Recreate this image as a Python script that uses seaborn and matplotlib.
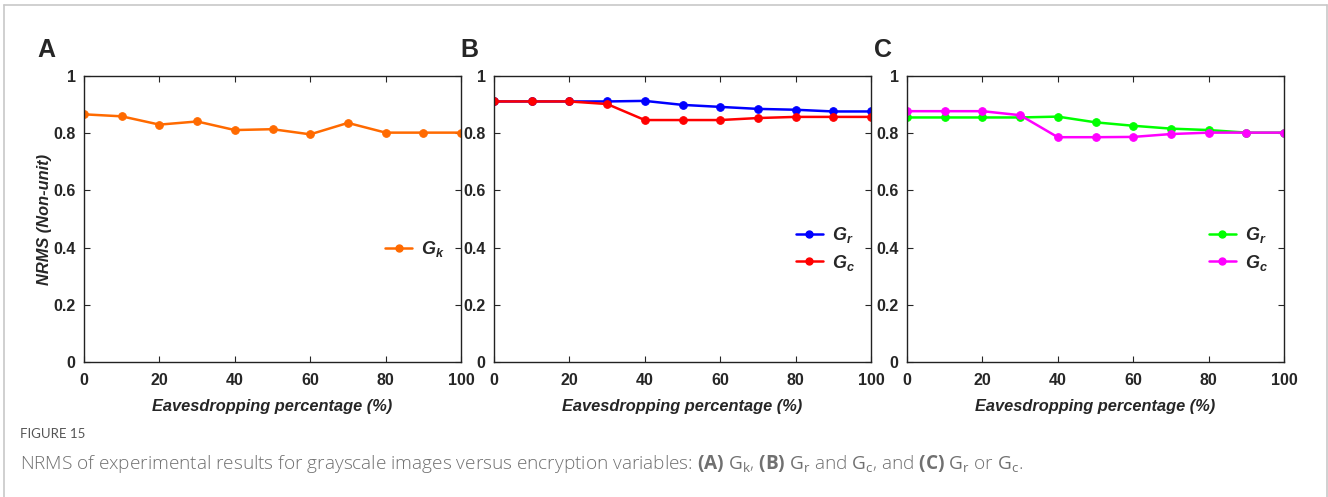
import numpy as np
import pandas as pd
import seaborn as sns
import matplotlib.pyplot as plt
from matplotlib.lines import Line2D

# data
pct = [0, 10, 20, 30, 40, 50, 60, 70, 80, 90, 100]
gk = [0.866, 0.859, 0.830, 0.841, 0.811, 0.814, 0.796, 0.836, 0.802, 0.802, 0.802]
b_gr = [0.911, 0.911, 0.911, 0.911, 0.913, 0.899, 0.892, 0.885, 0.882, 0.876, 0.876]
b_gc = [0.911, 0.911, 0.911, 0.902, 0.846, 0.846, 0.846, 0.853, 0.857, 0.857, 0.857]
c_gr = [0.855, 0.855, 0.855, 0.855, 0.858, 0.838, 0.826, 0.816, 0.811, 0.802, 0.802]
c_gc = [0.877, 0.877, 0.877, 0.863, 0.786, 0.786, 0.787, 0.797, 0.802, 0.802, 0.802]
yticks = [0, 0.2, 0.4, 0.6, 0.8, 1]
ytick_labels = ['0', '0.2', '0.4', '0.6', '0.8', '1']

sns.set_style('ticks')
plt.rcParams['font.family'] = ['Liberation Sans', 'DejaVu Sans']
plt.rcParams['mathtext.fontset'] = 'custom'
plt.rcParams['mathtext.it'] = 'Liberation Sans:italic:bold'
plt.rcParams['mathtext.rm'] = 'Open Sans'
plt.rcParams['mathtext.bf'] = 'Open Sans:bold'

W, H = 1328, 497
fig = plt.figure(figsize=(W / 100, H / 100), dpi=100)

panels = [
    (84, 37, 'A', [(gk, '#FF6A00', '$G_k$')]),
    (494, 460, 'B', [(b_gr, '#0000FF', '$G_r$'), (b_gc, '#FF0000', '$G_c$')]),
    (907, 874, 'C', [(c_gr, '#00FF00', '$G_r$'), (c_gc, '#FF00FF', '$G_c$')]),
]

for i, (x0, lx, letter, series) in enumerate(panels):
    ax = fig.add_axes([x0 / W, 1 - 362 / H, 377 / W, 286 / H])
    handles = []
    for vals, col, lab in series:
        df = pd.DataFrame({'pct': pct, 'nrms': vals})
        sns.lineplot(data=df, x='pct', y='nrms', color=col, marker='o',
                     markersize=5.5, markeredgecolor=col, linewidth=1.8, ax=ax)
        handles.append(Line2D([], [], color=col, marker='o', markersize=5,
                              linewidth=1.8, label=lab))
    ax.legend(handles=handles, loc='center right', bbox_to_anchor=(1.0, 0.395),
              frameon=False, fontsize=13, handlelength=1.5, handletextpad=0.5,
              labelspacing=0.4)
    ax.set_xlim(0, 100)
    ax.set_ylim(0, 1)
    ax.set_xticks([0, 20, 40, 60, 80, 100])
    ax.set_yticks(yticks)
    ax.set_yticklabels(ytick_labels)
    for s in ax.spines.values():
        s.set_visible(True)
        s.set_linewidth(1.0)
        s.set_color('#222222')
    ax.tick_params(direction='in', top=True, right=True, length=4, width=0.8,
                   labelsize=11.5)
    ax.tick_params(axis='y', pad=6)
    ax.tick_params(axis='x', pad=8)
    for t in ax.get_xticklabels() + ax.get_yticklabels():
        t.set_fontweight('bold')
    ax.set_xlabel('Eavesdropping percentage (%)', fontsize=11.8,
                  fontweight='bold', fontstyle='italic', labelpad=8)
    if i == 0:
        ax.set_ylabel('NRMS (Non-unit)', fontsize=11.8, fontweight='bold',
                      fontstyle='italic', labelpad=1)
    else:
        ax.set_ylabel('')
    fig.text(lx / W, 1 - 57 / H, letter, fontsize=18, fontweight='bold',
             ha='left', va='baseline')

# page frame
fig.add_artist(Line2D([4 / W, 4 / W], [0, 1 - 5 / H], color='#c8c8c8', lw=1.2))
fig.add_artist(Line2D([4 / W, 1326.5 / W], [1 - 5 / H, 1 - 5 / H], color='#c8c8c8', lw=1.2))
fig.add_artist(Line2D([1326.5 / W, 1326.5 / W], [0, 1 - 5 / H], color='#c8c8c8', lw=1.2))

fig.text(20 / W, 1 - 438 / H, 'FIGURE 15', fontsize=9.5, color='#555555',
         family='Lato', va='baseline')
fig.text(20 / W, 1 - 469 / H,
         r'NRMS of experimental results for grayscale images versus encryption variables: '
         r'$\mathbf{(A)}$ $\mathrm{G_k}$, $\mathbf{(B)}$ $\mathrm{G_r}$ and $\mathrm{G_c}$, '
         r'and $\mathbf{(C)}$ $\mathrm{G_r}$ or $\mathrm{G_c}$.',
         fontsize=13.7, color='#707070', family='Open Sans', fontweight='light',
         va='baseline')

fig.savefig('out.png', dpi=100)
